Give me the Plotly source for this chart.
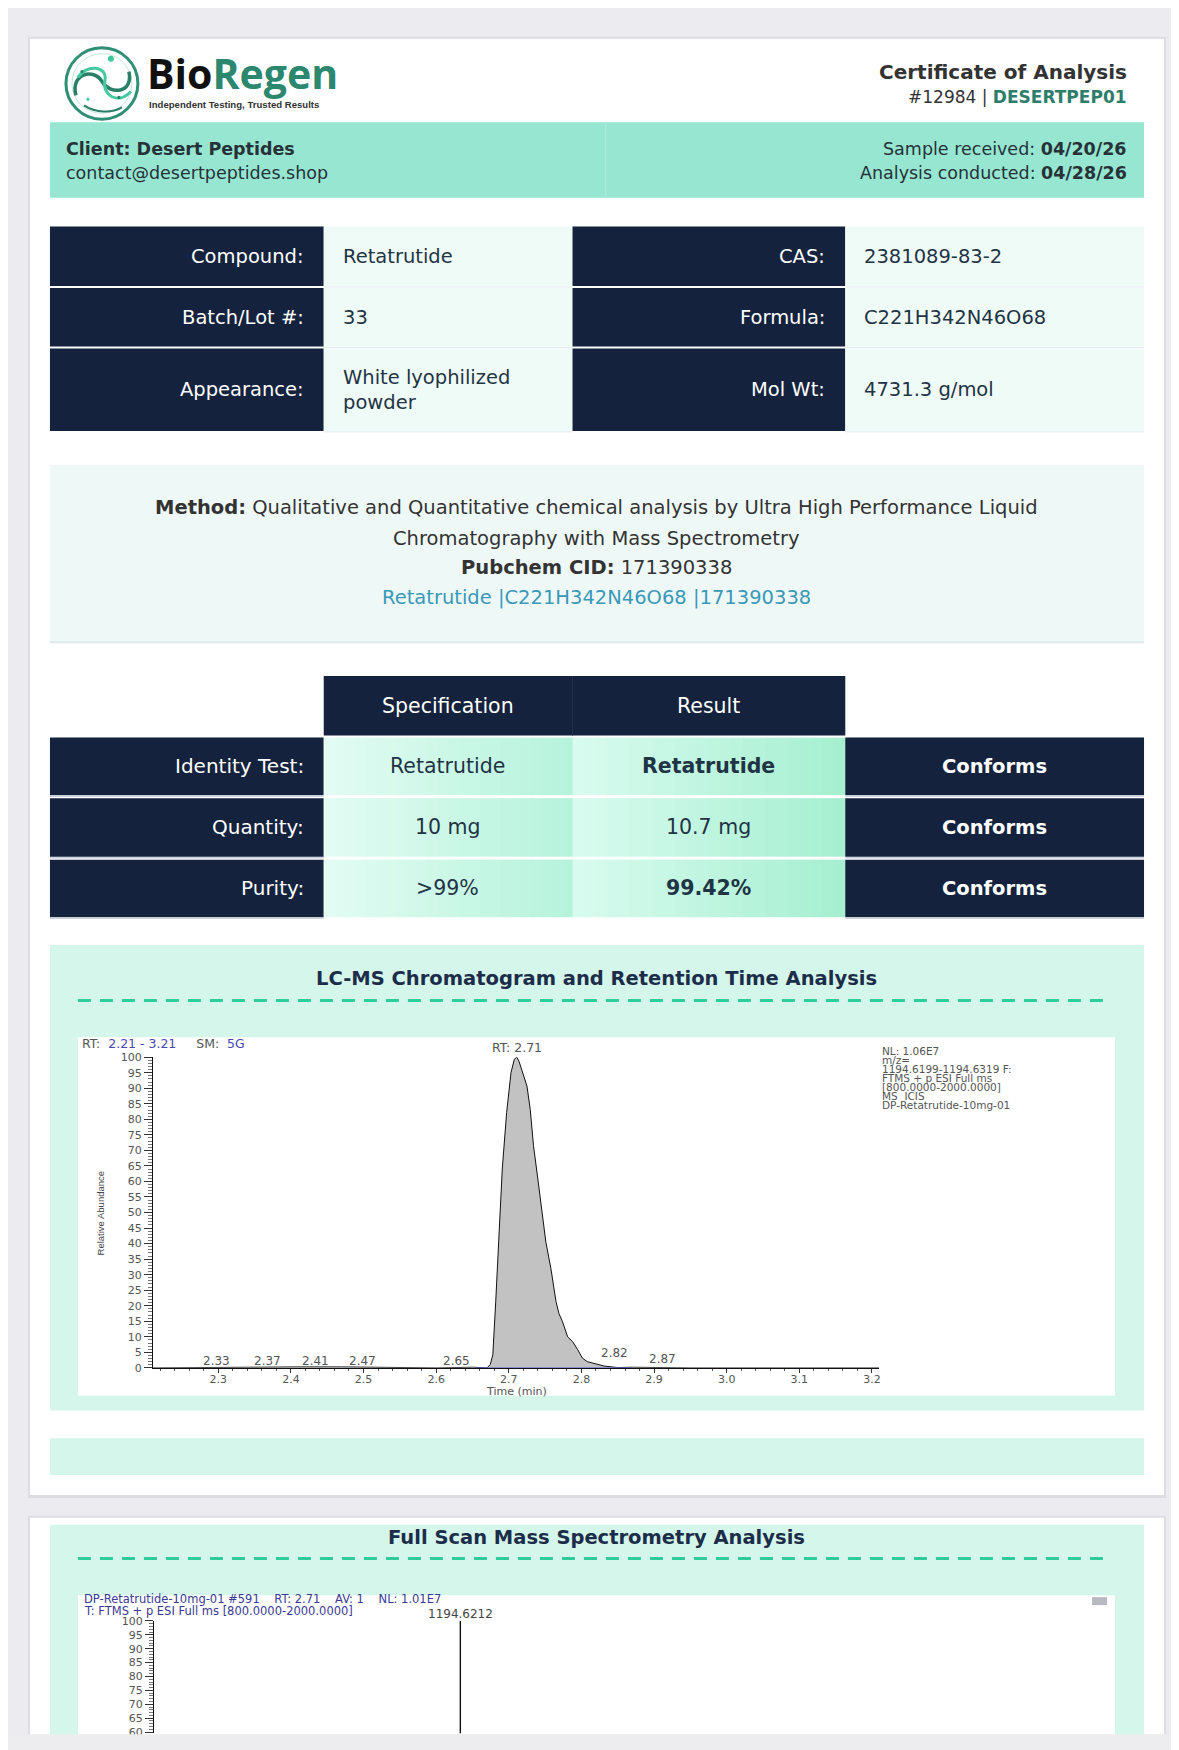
import plotly.graph_objects as go

W, H = 1179, 1750

# ---- certificate data ----
client_name = "Desert Peptides"
client_email = "contact@desertpeptides.shop"
coa_number = "#12984"
coa_code = "DESERTPEP01"
date_received = "04/20/26"
date_conducted = "04/28/26"

info_labels_left = ["Compound:", "Batch/Lot #:", "Appearance:"]
info_values_left = ["Retatrutide", "33", "White lyophilized<br>powder"]
info_labels_right = ["CAS:", "Formula:", "Mol Wt:"]
info_values_right = ["2381089-83-2", "C221H342N46O68", "4731.3 g/mol"]

method_text = "Qualitative and Quantitative chemical analysis by Ultra High Performance Liquid"
method_text2 = "Chromatography with Mass Spectrometry"
pubchem_cid = "171390338"
pubchem_link = "Retatrutide |C221H342N46O68 |171390338"

test_names = ["Identity Test:", "Quantity:", "Purity:"]
test_spec = ["Retatrutide", "10 mg", ">99%"]
test_result = ["Retatrutide", "10.7 mg", "99.42%"]
test_result_bold = [True, False, True]
test_status = ["Conforms", "Conforms", "Conforms"]

# chromatogram: retention time (min) vs relative abundance (%)
rt_min = [2.21, 2.33, 2.37, 2.41, 2.47, 2.60, 2.65, 2.670, 2.6745, 2.678, 2.682, 2.687,
          2.691, 2.697, 2.703, 2.7075, 2.711, 2.714, 2.720, 2.725, 2.7295, 2.734,
          2.740, 2.7455, 2.751, 2.758, 2.765, 2.769, 2.774, 2.781, 2.788, 2.795,
          2.8015, 2.808, 2.8176, 2.831, 2.8496, 2.87, 2.95, 3.21]
rel_abund = [0.0, 0.3, 0.3, 0.3, 0.3, 0.0, 0.2, 0.0, 1.1, 4.2, 21.3, 42.6,
             64.0, 82.2, 95.0, 99.3, 100.0, 98.7, 94.4, 90.7, 83.2, 71.5,
             60.8, 50.1, 40.5, 31.9, 21.3, 17.5, 14.8, 10.0, 8.4, 5.8,
             3.1, 2.0, 1.5, 0.6, 0.1, 0.2, 0.0, 0.0]
peak_labels = ["2.33", "2.37", "2.41", "2.47", "2.65", "2.82", "2.87"]
peak_label_rt = [2.298, 2.368, 2.434, 2.499, 2.628, 2.845, 2.911]
peak_label_abund = [0.0, 0.0, 0.0, 0.0, 0.0, 2.5, 0.7]
integration_rt = [2.655, 2.87]
rt_ticks = [2.3, 2.4, 2.5, 2.6, 2.7, 2.8, 2.9, 3.0, 3.1, 3.2]
rt_ticktext = ["2.3", "2.4", "2.5", "2.6", "2.7", "2.8", "2.9", "3.0", "3.1", "3.2"]
abund_ticks = [0, 5, 10, 15, 20, 25, 30, 35, 40, 45, 50, 55, 60, 65, 70, 75, 80, 85, 90, 95, 100]
chrom_info = ["NL: 1.06E7", "m/z=", "1194.6199-1194.6319 F:", "FTMS + p ESI Full ms",
              "[800.0000-2000.0000]", "MS&nbsp;&nbsp;ICIS", "DP-Retatrutide-10mg-01"]

# full scan spectrum (only the top of it is on the page)
spec_mz = [1194.6212]
spec_int = [100.0]
spec_ticks = [60, 65, 70, 75, 80, 85, 90, 95, 100]

NAVY = "#15223d"
CELL = "#effbf7"
BAND = "#96e6d1"
MINT = "#d5f6ea"
TEAL = "#2e7d6b"
FONT = "DejaVu Sans"

shapes = []
annotations = []


def px(x):
    return x / W


def py(y):
    return 1 - y / H


def box(x0, y0, x1, y1, color, layer="below"):
    shapes.append(dict(type="rect", xref="paper", yref="paper",
                       x0=px(x0), x1=px(x1), y0=py(y1), y1=py(y0),
                       fillcolor=color, line=dict(width=0), layer=layer))


def line(x0, y0, x1, y1, color, width=1, dash="solid"):
    shapes.append(dict(type="line", xref="paper", yref="paper",
                       x0=px(x0), x1=px(x1), y0=py(y0), y1=py(y1),
                       line=dict(color=color, width=width, dash=dash), layer="below"))


def circle(cx, cy, r, fill=None, edge=None, width=0):
    shapes.append(dict(type="circle", xref="paper", yref="paper",
                       x0=px(cx - r), x1=px(cx + r), y0=py(cy + r), y1=py(cy - r),
                       fillcolor=fill or "rgba(0,0,0,0)",
                       line=dict(color=edge or "rgba(0,0,0,0)", width=width), layer="below"))


def curve(pts, color, width):
    # pts: start point then groups of three cubic bezier points
    s = "M %f,%f" % (px(pts[0][0]), py(pts[0][1]))
    for i in range(1, len(pts), 3):
        s += " C " + " ".join("%f,%f" % (px(x), py(y)) for x, y in pts[i:i + 3])
    shapes.append(dict(type="path", xref="paper", yref="paper", path=s,
                       line=dict(color=color, width=width), layer="below"))


def mix(c1, c2, t):
    a = [int(c1[i:i + 2], 16) for i in (1, 3, 5)]
    b = [int(c2[i:i + 2], 16) for i in (1, 3, 5)]
    return "#%02x%02x%02x" % tuple(round(a[k] + (b[k] - a[k]) * t) for k in range(3))


def gradient_box(x0, y0, x1, y1, c_left, c_right, n=24):
    step = (x1 - x0) / n
    for i in range(n):
        box(x0 + i * step, y0, x0 + (i + 1) * step + 0.6, y1, mix(c_left, c_right, i / (n - 1)))


def text(x, y, s, size=18, color="#222", anchor="left", bold=False, family=FONT,
         yanchor="middle", angle=0):
    if bold:
        s = "<b>" + s + "</b>"
    annotations.append(dict(xref="paper", yref="paper", x=px(x), y=py(y), text=s,
                            showarrow=False, xanchor=anchor, yanchor=yanchor,
                            align="left" if anchor == "left" else anchor,
                            textangle=angle, borderpad=0,
                            font=dict(family=family, size=size, color=color)))


# ---- page and cards ----
box(20, 23, 1159, 1495, "#dcdce2")
box(22, 25, 1157, 1492, "white")
box(20, 1513, 1159, 1750, "#dcdce2")
box(22, 1515, 1157, 1750, "white")

# logo
circle(94, 70, 36, edge="#2f8f74", width=3)
circle(94, 70, 30, edge="#bfe9db", width=1)
curve([(68, 82), (62, 60), (86, 54), (94, 68), (102, 82), (126, 80), (121, 58)], "#2a7f68", 3.5)
curve([(70, 64), (78, 50), (100, 52), (97, 67), (94, 82), (110, 92), (123, 78)], "#45c9a0", 3)
curve([(76, 92), (88, 100), (104, 100), (114, 94)], "#2a7f68", 2)
circle(103, 45, 3, fill="#3fc79e")
circle(74, 58, 1.6, fill="#2a7f68")
circle(80, 86, 1.6, fill="#45c9a0")
circle(111, 84, 1.6, fill="#2a7f68")
text(138, 59, "Bio<span style='color:#2b876d'>Regen</span>", size=41, color="#111",
     bold=True, family="Open Sans")
text(140, 91, "Independent Testing, Trusted Results", size=9.6, color="#333",
     bold=True, family="Liberation Sans")

text(1121, 58, "Certificate of Analysis", size=20, color="#333", anchor="right", bold=True)
text(1121, 84, coa_number + " | <b><span style='color:%s'>%s</span></b>" % (TEAL, coa_code),
     size=17, color="#333", anchor="right")

# client band
box(42, 109, 1137, 185, BAND)
line(598, 109, 598, 185, "#a9ecda", 1.5)
text(57, 136, "Client: " + client_name, size=17.5, color="#263238", bold=True)
text(57, 160, client_email, size=17.5, color="#263238")
text(1121, 136, "Sample received: <b>%s</b>" % date_received, size=17.5, color="#263238", anchor="right")
text(1121, 160, "Analysis conducted: <b>%s</b>" % date_conducted, size=17.5, color="#263238", anchor="right")

# info table
info_rows = [(214, 274), (276, 335), (337, 420)]
for i, (y0, y1) in enumerate(info_rows):
    box(42, y0, 316, y1, NAVY)
    box(316, y0, 565, y1, CELL)
    box(565, y0, 838, y1, NAVY)
    box(838, y0, 1137, y1, CELL)
    line(316, y1 + 1, 565, y1 + 1, "#dfe9ee", 1)
    line(838, y1 + 1, 1137, y1 + 1, "#dfe9ee", 1)
    yc = (y0 + y1) / 2
    text(297, yc, info_labels_left[i], size=19.5, color="white", anchor="right")
    text(334, yc, info_values_left[i], size=19.5, color="#1f3444")
    text(819, yc, info_labels_right[i], size=19.5, color="white", anchor="right")
    text(856, yc, info_values_right[i], size=19.5, color="#1f3444")

# method box
box(42, 454, 1137, 633, "#eef9f7")
line(42, 633, 1137, 633, "#dde9e8", 2)
text(589, 497, "<b>Method:</b> " + method_text, size=19.5, color="#333", anchor="center")
text(589, 528, method_text2, size=19.5, color="#333", anchor="center")
text(589, 558, "<b>Pubchem CID:</b> " + pubchem_cid, size=19.5, color="#333", anchor="center")
text(589, 588, pubchem_link, size=19.5, color="#3a98b8", anchor="center")

# specification table
box(316, 667, 565, 727, NAVY)
box(565, 667, 838, 727, NAVY)
line(565, 667, 565, 727, "#22304d", 1)
text(440, 697, "Specification", size=20.5, color="white", anchor="center")
text(701, 697, "Result", size=20.5, color="white", anchor="center")
spec_rows = [(729, 787), (790, 849), (852, 910)]
for i, (y0, y1) in enumerate(spec_rows):
    box(42, y0, 316, y1, NAVY)
    gradient_box(316, y0, 565, y1, "#e2fcf3", "#b6f3dc")
    gradient_box(565, y0, 838, y1, "#d8fbef", "#a6efd1")
    box(838, y0, 1137, y1, NAVY)
    line(42, y1 + 1, 316, y1 + 1, "#c9d1dc", 1.5)
    line(838, y1 + 1, 1137, y1 + 1, "#c9d1dc", 1.5)
    yc = (y0 + y1) / 2
    text(297, yc, test_names[i], size=20, color="white", anchor="right")
    text(440, yc, test_spec[i], size=20.5, color="#1f3444", anchor="center")
    text(701, yc, test_result[i], size=20.5, color="#1f3444", anchor="center",
         bold=test_result_bold[i])
    text(987, yc, test_status[i], size=19.5, color="white", anchor="center", bold=True)

# LC-MS section
box(42, 938, 1137, 1407, MINT)
text(589, 972, "LC-MS Chromatogram and Retention Time Analysis", size=19.5,
     color="#1c2d4a", anchor="center", bold=True)
line(70, 994, 1100, 994, "#2fcc9b", 3, dash="13px,9px")
box(70, 1031, 1108, 1392, "white")
box(42, 1435, 1137, 1472, MINT)

# chromatogram labels
text(73, 1037, "RT:&nbsp;&nbsp;<span style='color:#4848b0'>2.21&nbsp;-&nbsp;3.21</span>&nbsp;&nbsp;&nbsp;&nbsp;&nbsp;SM:&nbsp;&nbsp;"
     "<span style='color:#4848b0'>5G</span>", size=12.5, color="#555")
for k, s in enumerate(chrom_info):
    text(874, 1045 + k * 9, s, size=10.5, color="#555")
text(86, 1208, "Relative Abundance", size=9.5, color="#444", angle=-90, family="Liberation Sans")
text(509, 1388, "Time (min)", size=11, color="#555", anchor="center")

# full scan section
box(42, 1522, 1137, 1750, MINT)
text(589, 1535, "Full Scan Mass Spectrometry Analysis", size=19.5, color="#1c2d4a",
     anchor="center", bold=True)
line(70, 1556, 1100, 1556, "#2fcc9b", 3, dash="13px,9px")
box(70, 1593, 1108, 1750, "white")
box(1085, 1595, 1100, 1603, "#b8b8c0")
text(75, 1597, "DP-Retatrutide-10mg-01 #591&nbsp;&nbsp;&nbsp;&nbsp;RT: 2.71&nbsp;&nbsp;&nbsp;&nbsp;AV: 1&nbsp;&nbsp;&nbsp;&nbsp;NL: 1.01E7",
     size=11.5, color="#3a3a95")
text(75, 1609, "T: FTMS + p ESI Full ms [800.0000-2000.0000]", size=11.5, color="#3a3a95")

# bottom strip of the screenshot
box(0, 1733, W, H, "#ededf0", layer="above")

fig = go.Figure()

# chromatogram trace
fig.add_trace(go.Scatter(x=rt_min, y=rel_abund, mode="lines", fill="tozeroy",
                         fillcolor="#c2c2c2", line=dict(color="#111", width=1),
                         cliponaxis=False, xaxis="x", yaxis="y", hoverinfo="skip"))
fig.add_trace(go.Scatter(x=integration_rt, y=[0, 0], mode="lines",
                         line=dict(color="#4a4ac0", width=1.2), xaxis="x", yaxis="y",
                         hoverinfo="skip"))
for s, xr, ya in zip(peak_labels, peak_label_rt, peak_label_abund):
    annotations.append(dict(xref="x", yref="y", x=xr, y=ya, text=s, showarrow=False,
                            yanchor="bottom", yshift=-1, borderpad=0,
                            font=dict(family=FONT, size=12, color="#555")))
apex = rel_abund.index(max(rel_abund))
annotations.append(dict(xref="x", yref="y", x=rt_min[apex], y=rel_abund[apex],
                        text="RT: %.2f" % rt_min[apex], showarrow=False, yanchor="bottom",
                        yshift=1, borderpad=0, font=dict(family=FONT, size=12.5, color="#555")))

# spectrum sticks
sx, sy = [], []
for mz, inten in zip(spec_mz, spec_int):
    sx += [mz, mz, None]
    sy += [0, inten, None]
fig.add_trace(go.Scatter(x=sx, y=sy, mode="lines", line=dict(color="#111", width=1.4),
                         xaxis="x2", yaxis="y2", hoverinfo="skip"))
for mz, inten in zip(spec_mz, spec_int):
    annotations.append(dict(xref="x2", yref="y2", x=mz, y=inten, text="%.4f" % mz,
                            showarrow=False, yanchor="bottom", yshift=-1, borderpad=0,
                            font=dict(family=FONT, size=12, color="#444")))

tickfont = dict(family=FONT, size=11, color="#555")
fig.update_layout(
    width=W, height=H, margin=dict(l=0, r=0, t=0, b=0),
    paper_bgcolor="#ececf0", plot_bgcolor="rgba(0,0,0,0)", showlegend=False,
    shapes=shapes, annotations=annotations,
    xaxis=dict(domain=[px(145), px(872)], range=[2.21, 3.21], anchor="y",
               tickmode="array", tickvals=rt_ticks, ticktext=rt_ticktext,
               showline=True, linecolor="#111", linewidth=1, ticks="outside",
               ticklen=4, tickcolor="#333", tickfont=dict(family=FONT, size=11, color="#555"),
               showgrid=False, zeroline=False, ticklabelstandoff=-3,
               minor=dict(tick0=2.2, dtick=0.02, ticks="outside", ticklen=2,
                          tickcolor="#555", showgrid=False)),
    yaxis=dict(domain=[py(1364), py(1051)], range=[0, 100], anchor="x",
               tickmode="array", tickvals=abund_ticks, showline=True,
               linecolor="#111", linewidth=1, ticks="outside", ticklen=8,
               tickcolor="#333", tickfont=tickfont, showgrid=False, zeroline=False,
               minor=dict(dtick=1, ticks="outside", ticklen=4, tickcolor="#777",
                          showgrid=False)),
    xaxis2=dict(domain=[px(146), px(1090)], range=[1180, 1225], anchor="y2",
                visible=False),
    yaxis2=dict(domain=[py(1732), py(1619)], range=[59.6, 100], anchor="x2",
                tickmode="array", tickvals=spec_ticks, showline=True,
                linecolor="#111", linewidth=1, ticks="outside", ticklen=8,
                tickcolor="#333", tickfont=tickfont, showgrid=False, zeroline=False,
                minor=dict(dtick=1, ticks="outside", ticklen=4, tickcolor="#777",
                           showgrid=False)),
)

fig.write_html("out.html")
